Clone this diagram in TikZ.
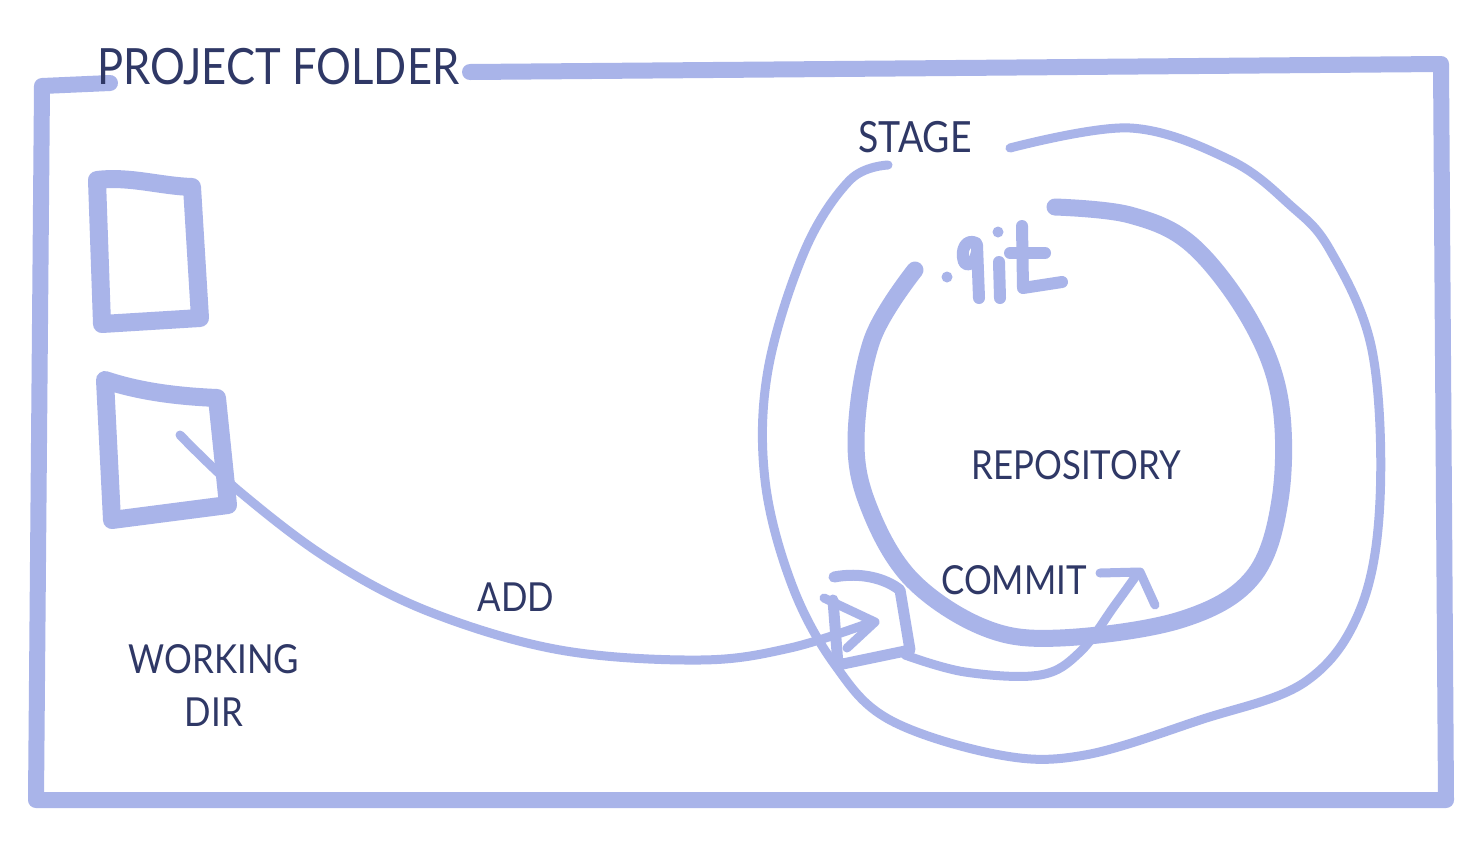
\documentclass[tikz,border=0pt]{standalone}
\usepackage{fontspec}
\setmainfont{Lato}[FakeStretch=0.87]
\definecolor{pen}{HTML}{A9B4E9}
\definecolor{ink}{HTML}{2F3866}
\begin{document}
\begin{tikzpicture}[x=1pt,y=-1pt,
  stroke/.style={draw=pen,line cap=round,line join=round},
  thick stroke/.style={stroke,line width=16pt},
  mid stroke/.style={stroke,line width=12pt},
  thin stroke/.style={stroke,line width=9pt},
  label/.style={text=ink,inner sep=0pt,font=\fontsize{40}{44}\selectfont},
  biglabel/.style={label,font=\fontsize{50}{54}\selectfont}]
\useasboundingbox[fill=white] (0,0) rectangle (1470,844);
% project folder frame
\draw[thick stroke] (110,83) -- (42,86) -- (36,800) -- (1446,800) -- (1441,64) -- (470,72);
\node[biglabel,anchor=west] (pf) at (97,67) {PROJECT FOLDER};
% working dir files
\draw[thick stroke,line width=18pt] (97,180) .. controls (130,176) and (160,186) .. (192,187) -- (200,318) -- (102,324) -- cycle;
\draw[thick stroke,line width=18pt] (105,380) .. controls (135,390) and (170,396) .. (217,398) -- (228,505) -- (112,520) -- cycle;
\node[label] (wd1) at (214,659) {WORKING};
\node[label] (wd2) at (214,712) {DIR};
% stage loop
\draw[thin stroke] plot[smooth,tension=0.6] coordinates {(888,165) (850,180) (805,250) (768,370) (765,480) (792,585) (835,665) (890,720) (1000,755) (1085,755) (1200,720) (1305,682) (1360,610) (1380,500) (1372,350) (1330,250) (1290,205) (1230,160) (1130,128) (1010,148)};
\node[label,font=\fontsize{43}{46}\selectfont] (stage) at (915,137) {STAGE};
% repository loop
\draw[thick stroke,line width=17pt] plot[smooth,tension=0.6] coordinates {(915,270) (872,340) (856,440) (870,510) (912,580) (985,628) (1060,638) (1180,620) (1252,578) (1280,500) (1280,400) (1250,320) (1192,245) (1130,215) (1055,207)};
\node[label] (repo) at (1076,465) {REPOSITORY};
% .git
\fill[pen] (947,277) circle (5.5pt);
\draw[mid stroke] (976,243) .. controls (966,238) and (960,250) .. (964,262) .. controls (968,268) and (975,262) .. (977,252);
\draw[mid stroke] (977,245) -- (979,298);
\fill[pen] (998,232) circle (5.5pt);
\draw[mid stroke] (999,262) -- (1000,298);
\draw[mid stroke] (1022,226) -- (1023,288) -- (1062,282);
\draw[mid stroke] (1010,253) -- (1045,253);
% staged file box
\draw[thin stroke,line width=11pt] (834,577) .. controls (860,572) and (885,578) .. (900,590) -- (910,650) -- (838,665) -- (833,600);
\draw[thin stroke] (824,598) -- (875,622) -- (847,648);
% add arrow
\draw[thin stroke] plot[smooth,tension=0.6] coordinates {(180,435) (240,492) (330,560) (430,612) (560,650) (700,660) (790,648) (872,622)};
\node[label] (add) at (516,597) {ADD};
% commit arrow
\draw[thin stroke] plot[smooth,tension=0.6] coordinates {(905,655) (965,672) (1040,675) (1080,652) (1115,605) (1138,573)};
\draw[thin stroke] (1100,573) -- (1140,572) -- (1155,605);
\node[label] (commit) at (1014,580) {COMMIT};
\end{tikzpicture}
\end{document}
